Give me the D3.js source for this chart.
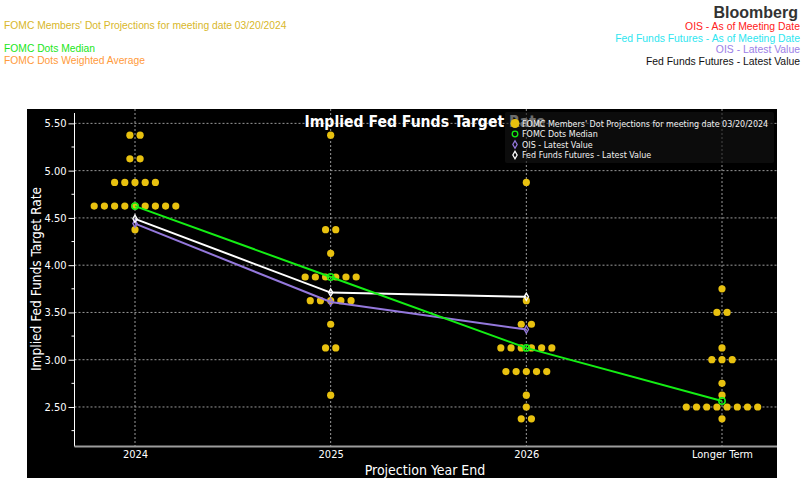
<!DOCTYPE html>
<html>
<head>
<meta charset="utf-8">
<script src="https://cdn.jsdelivr.net/npm/d3@7"></script>
<style>
  html, body { margin: 0; padding: 0; background: #ffffff; }
  svg { display: block; }
</style>
</head>
<body>
<svg id="chart" width="802" height="485"></svg>
<script>
// ---------------- data ----------------
const categories = ["2024", "2025", "2026", "Longer Term"];
// FOMC dot projections: [rate, number of participants]
const dots2024 = [[5.375, 2], [5.125, 2], [4.875, 5], [4.625, 9], [4.375, 1]];
const dots2025 = [[5.375, 1], [4.375, 2], [4.125, 1], [3.875, 6], [3.625, 5], [3.375, 1], [3.125, 2], [2.625, 1]];
const dots2026 = [[4.875, 1], [3.625, 1], [3.375, 2], [3.125, 6], [2.875, 5], [2.625, 1], [2.5, 1], [2.375, 2]];
const dotsLonger = [[3.75, 1], [3.5, 2], [3.125, 1], [3.0, 3], [2.75, 1], [2.625, 1], [2.5, 8], [2.375, 1]];
const dotsByCategory = [dots2024, dots2025, dots2026, dotsLonger];
const medianValues = [4.625, 3.875, 3.125, 2.5625];
const oisLatest = [4.44, 3.61, 3.32];
const ffFuturesLatest = [4.49, 3.71, 3.665];
const yTicks = [2.5, 3.0, 3.5, 4.0, 4.5, 5.0, 5.5];
const yMinorTicks = [2.25, 2.75, 3.25, 3.75, 4.25, 4.75, 5.25];
const headerLeft = [
  ["FOMC Members' Dot Projections for meeting date 03/20/2024", "#d8b72a"],
  ["FOMC Dots Median", "#19e619"],
  ["FOMC Dots Weighted Average", "#ff9a3a"]
];
const headerRight = [
  ["OIS - As of Meeting Date", "#ff2020"],
  ["Fed Funds Futures - As of Meeting Date", "#2ee6f0"],
  ["OIS - Latest Value", "#9b80e6"],
  ["Fed Funds Futures - Latest Value", "#111111"]
];
const legendItems = [
  "FOMC Members' Dot Projections for meeting date 03/20/2024",
  "FOMC Dots Median",
  "OIS - Latest Value",
  "Fed Funds Futures - Latest Value"
];

// ---------------- layout ----------------
const svg = d3.select("#chart");
const gold = "#e8c10f", green = "#14ee14", purple = "#9478dc";
const bg = { x0: 27, y0: 109, x1: 777, y1: 478 };
const plot = { left: 74.5, right: 777, top: 109, bottom: 446.5 };
const cfont = "'DejaVu Sans Condensed', 'DejaVu Sans', sans-serif";

const x = d3.scalePoint().domain(categories).range([135, 722]);
const y = d3.scaleLinear().domain([2.082, 5.652]).range([plot.bottom, plot.top]);

// header texts
svg.append("g").selectAll("text").data(headerLeft).join("text")
  .attr("x", 4).attr("y", (d, i) => [29, 52, 64][i])
  .attr("font-family", "'Liberation Sans', Arial, sans-serif").attr("font-size", 10.3)
  .attr("fill", d => d[1]).text(d => d[0]);
svg.append("text").attr("x", 798).attr("y", 18).attr("text-anchor", "end")
  .attr("font-family", "'Liberation Sans', Arial, sans-serif").attr("font-weight", "bold")
  .attr("font-size", 16).attr("fill", "#333333").text("Bloomberg");
svg.append("g").selectAll("text").data(headerRight).join("text")
  .attr("x", 800).attr("y", (d, i) => [29.5, 41.5, 53, 64.5][i]).attr("text-anchor", "end")
  .attr("font-family", "'Liberation Sans', Arial, sans-serif").attr("font-size", 10.4)
  .attr("fill", d => d[1]).text(d => d[0]);

// black background
svg.append("rect").attr("x", bg.x0).attr("y", bg.y0)
  .attr("width", bg.x1 - bg.x0).attr("height", bg.y1 - bg.y0).attr("fill", "#000");

// gridlines
svg.append("g").selectAll("line").data(yTicks).join("line")
  .attr("x1", plot.left).attr("x2", plot.right)
  .attr("y1", d => y(d)).attr("y2", d => y(d))
  .attr("stroke", "#9a9a9a").attr("stroke-width", 1).attr("stroke-dasharray", "2,2");
svg.append("g").selectAll("line").data(categories).join("line")
  .attr("x1", d => x(d)).attr("x2", d => x(d))
  .attr("y1", plot.top).attr("y2", plot.bottom)
  .attr("stroke", "#9a9a9a").attr("stroke-width", 1).attr("stroke-dasharray", "2,2");

// y axis
const yAxis = d3.axisLeft(y).tickValues(yTicks).tickFormat(d3.format(".2f")).tickSize(6).tickPadding(2);
const gy = svg.append("g").attr("transform", `translate(${plot.left},0)`).call(yAxis);
gy.select(".domain").remove();
gy.selectAll(".tick line").attr("stroke", "#fff");
gy.selectAll(".tick text").attr("fill", "#fff").attr("font-family", cfont).attr("font-size", 11);
svg.append("g").selectAll("line").data(yMinorTicks).join("line")
  .attr("x1", plot.left - 3).attr("x2", plot.left)
  .attr("y1", d => y(d)).attr("y2", d => y(d)).attr("stroke", "#fff");
svg.append("line").attr("x1", plot.left).attr("x2", plot.left)
  .attr("y1", plot.top + 4).attr("y2", plot.bottom).attr("stroke", "#fff");

// x axis
const xAxis = d3.axisBottom(x).tickSize(0).tickPadding(4);
const gx = svg.append("g").attr("transform", `translate(0,${plot.bottom})`).call(xAxis);
gx.select(".domain").remove();
gx.selectAll(".tick text").attr("fill", "#fff").attr("font-family", cfont).attr("font-size", 11);
svg.append("line").attr("x1", plot.left).attr("x2", plot.right)
  .attr("y1", plot.bottom).attr("y2", plot.bottom).attr("stroke", "#9c9c9c").attr("stroke-width", 2);

// axis titles
svg.append("text").attr("x", 425).attr("y", 475).attr("text-anchor", "middle")
  .attr("font-family", cfont).attr("font-size", 14).attr("fill", "#fff").text("Projection Year End");
svg.append("text").attr("transform", "translate(41,279) rotate(-90)").attr("text-anchor", "middle")
  .attr("font-family", cfont).attr("font-size", 13.6).attr("fill", "#fff").text("Implied Fed Funds Target Rate");

// dots
const dotStep = 10.2;
const dotData = [];
dotsByCategory.forEach((rows, ci) => {
  rows.forEach(([rate, n]) => {
    for (let k = 0; k < n; k++) dotData.push({ cat: categories[ci], rate, off: (k - (n - 1) / 2) * dotStep });
  });
});
svg.append("g").selectAll("circle").data(dotData).join("circle")
  .attr("cx", d => x(d.cat) + d.off).attr("cy", d => y(d.rate)).attr("r", 3.6).attr("fill", gold);

// lines
const line = d3.line().x((d, i) => x(categories[i])).y(d => y(d));
svg.append("path").attr("d", line(oisLatest)).attr("fill", "none").attr("stroke", purple).attr("stroke-width", 2);
svg.append("path").attr("d", line(ffFuturesLatest)).attr("fill", "none").attr("stroke", "#fff").attr("stroke-width", 2);
svg.append("path").attr("d", line(medianValues)).attr("fill", "none").attr("stroke", green).attr("stroke-width", 2);

const diamond = d3.symbol().type(d3.symbolDiamond).size(16);
svg.append("g").selectAll("path").data(oisLatest).join("path")
  .attr("d", diamond).attr("transform", (d, i) => `translate(${x(categories[i])},${y(d)})`)
  .attr("fill", "none").attr("stroke", purple).attr("stroke-width", 1.3);
svg.append("g").selectAll("path").data(ffFuturesLatest).join("path")
  .attr("d", diamond).attr("transform", (d, i) => `translate(${x(categories[i])},${y(d)})`)
  .attr("fill", "none").attr("stroke", "#fff").attr("stroke-width", 1.3);
svg.append("g").selectAll("circle").data(medianValues).join("circle")
  .attr("cx", (d, i) => x(categories[i])).attr("cy", d => y(d)).attr("r", 3.2)
  .attr("fill", "none").attr("stroke", green).attr("stroke-width", 1.5);

// title
svg.append("text").attr("x", 425).attr("y", 126.5).attr("text-anchor", "middle")
  .attr("font-family", cfont).attr("font-weight", "bold").attr("font-size", 15.6)
  .attr("fill", "#fff").text("Implied Fed Funds Target Rate");

// legend box
const lg = svg.append("g");
lg.append("rect").attr("x", 505).attr("y", 112).attr("width", 269).attr("height", 51)
  .attr("rx", 2).attr("fill", "#141414").attr("fill-opacity", 0.62);
const ly = [123.5, 134, 144.5, 155];
lg.append("circle").attr("cx", 515).attr("cy", ly[0]).attr("r", 4.5).attr("fill", gold);
lg.append("circle").attr("cx", 515).attr("cy", ly[1]).attr("r", 2.8).attr("fill", "none").attr("stroke", green).attr("stroke-width", 1.3);
lg.append("path").attr("d", d3.symbol().type(d3.symbolDiamond).size(16))
  .attr("transform", `translate(515,${ly[2]})`).attr("fill", "none").attr("stroke", purple).attr("stroke-width", 1.3);
lg.append("path").attr("d", d3.symbol().type(d3.symbolDiamond).size(16))
  .attr("transform", `translate(515,${ly[3]})`).attr("fill", "none").attr("stroke", "#fff").attr("stroke-width", 1.3);
lg.selectAll("text.item").data(legendItems).join("text").attr("class", "item")
  .attr("x", 522).attr("y", (d, i) => ly[i] + 3.2)
  .attr("font-family", cfont).attr("font-size", 8.9).attr("fill", "#f2f2f2").text(d => d);
</script>
</body>
</html>
